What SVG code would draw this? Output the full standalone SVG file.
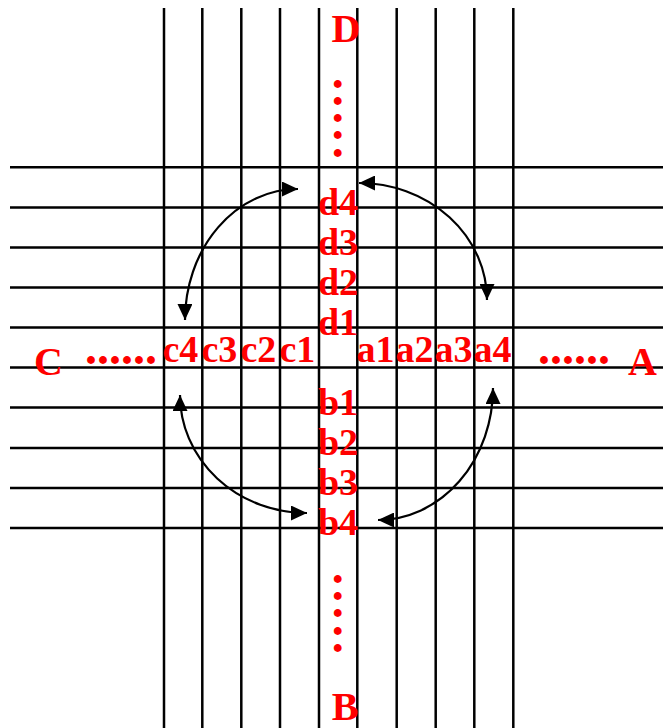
<svg xmlns="http://www.w3.org/2000/svg" width="663" height="728" viewBox="0 0 663 728">
<style>
.g{stroke:#000;stroke-width:2.5;fill:none}
.arc{stroke:#000;stroke-width:2.2;fill:none;marker-start:url(#ah);marker-end:url(#ah)}
.lb{font-family:"Liberation Serif","Times New Roman",serif;font-weight:bold;fill:#f00;font-size:38px}
.big{font-family:"Liberation Serif","Times New Roman",serif;font-weight:bold;fill:#f00;font-size:40px}
.dot{font-family:"Liberation Serif","Times New Roman",serif;font-weight:bold;fill:#f00;font-size:48px}
</style>
<defs>
<marker id="ah" markerUnits="userSpaceOnUse" markerWidth="17" markerHeight="15" refX="16" refY="7.5" orient="auto-start-reverse">
<path d="M0,0 L16,7.5 L0,15 z" fill="#000"/>
</marker>
</defs>
<rect width="663" height="728" fill="#fff"/>
<g id="grid">
<path class="g" d="M164,8V728M202.3,8V728M241.3,8V728M280,8V728M319,8V728M357.3,8V728M396.7,8V728M435.7,8V728M474.3,8V728M513.3,8V728"/>
<path class="g" d="M10,167.3H663M10,207.5H663M10,247.5H663M10,287.5H663M10,327.5H663M10,367.5H663M10,407.5H663M10,448H663M10,488H663M10,528H663"/>
</g>
<g id="connectors">
<path class="arc" d="M298,189 A113 131 0 0 0 185,320"/>
<path class="arc" d="M359,183 A128 117 0 0 1 487,300"/>
<path class="arc" d="M180,395 A127 118 0 0 0 307,513"/>
<path class="arc" d="M493,388 A115 132 0 0 1 378,520"/>
</g>
<g id="D"><text class="big" x="346" y="42" text-anchor="middle">D</text>
<text class="dot" x="331.7 331.7 331.7 331.7 331.7" y="87.8 105 122.2 139.4 156.6">.....</text></g>
<g id="B"><text class="big" x="345" y="720" text-anchor="middle">B</text>
<text class="dot" x="331.7 331.7 331.7 331.7 331.7" y="582.8 600 617.3 634.5 651.8">.....</text></g>
<g id="C"><text class="big" x="34" y="375">C</text>
<text class="dot" x="85 97 109 121 133 145" y="363.5">......</text></g>
<g id="A"><text class="big" x="628" y="375">A</text>
<text class="dot" x="538 550 562 574 586 598" y="363.5">......</text></g>
<g id="d-labels">
<text class="lb" x="338" y="215" text-anchor="middle">d4</text>
<text class="lb" x="338" y="255" text-anchor="middle">d3</text>
<text class="lb" x="338" y="295" text-anchor="middle">d2</text>
<text class="lb" x="338" y="335" text-anchor="middle">d1</text>
</g>
<g id="b-labels">
<text class="lb" x="338" y="415" text-anchor="middle">b1</text>
<text class="lb" x="338" y="455" text-anchor="middle">b2</text>
<text class="lb" x="338" y="495" text-anchor="middle">b3</text>
<text class="lb" x="338" y="535" text-anchor="middle">b4</text>
</g>
<g id="c-labels">
<text class="lb" x="162.5" y="362">c4</text>
<text class="lb" x="201.5" y="362">c3</text>
<text class="lb" x="240.5" y="362">c2</text>
<text class="lb" x="279.5" y="362">c1</text>
</g>
<g id="a-labels">
<text class="lb" x="356.5" y="362">a1</text>
<text class="lb" x="395.5" y="362">a2</text>
<text class="lb" x="434.5" y="362">a3</text>
<text class="lb" x="473.5" y="362">a4</text>
</g>
</svg>
